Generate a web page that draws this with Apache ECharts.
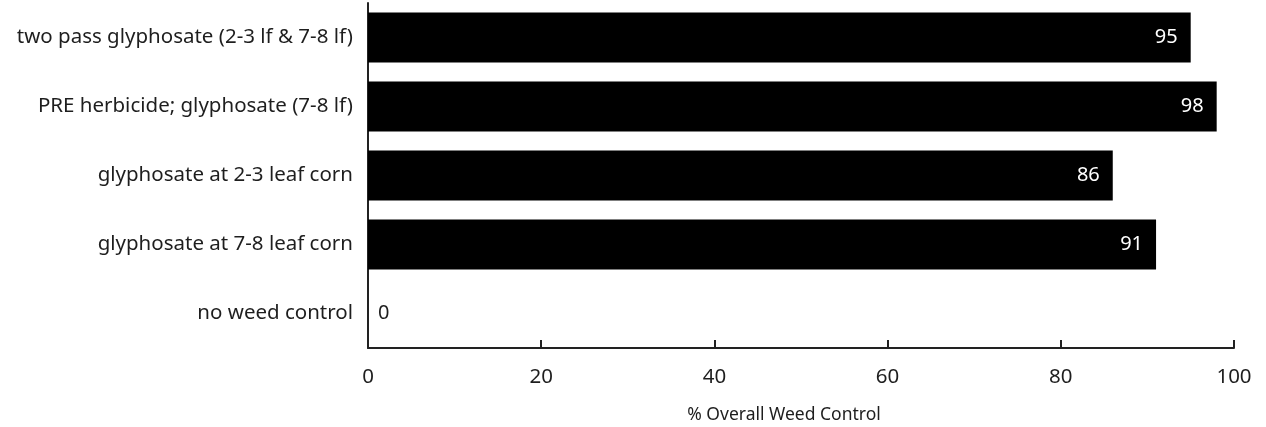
<!DOCTYPE html>
<html>
<head>
<meta charset="utf-8">
<script src="https://cdn.jsdelivr.net/npm/echarts@6/dist/echarts.min.js"></script>
<style>html,body{margin:0;padding:0;background:#fff}#c{width:1266px;height:427px}</style>
</head>
<body>
<div id="c"></div>
<script>
const categories = [
  'two pass glyphosate (2-3 lf & 7-8 lf)',
  'PRE herbicide; glyphosate (7-8 lf)',
  'glyphosate at 2-3 leaf corn',
  'glyphosate at 7-8 leaf corn',
  'no weed control'
];
const values = [95, 98, 86, 91, 0];
const xTicks = [0, 20, 40, 60, 80, 100];
const axisName = '% Overall Weed Control';

const FONT = '"Noto Sans", sans-serif';
const chart = echarts.init(document.getElementById('c'));
chart.setOption({
  animation: false,
  backgroundColor: '#fff',
  grid: {left: 368, right: 32, top: 3, bottom: 79, containLabel: false, outerBoundsMode: 'none'},
  xAxis: {
    type: 'value', min: xTicks[0], max: xTicks[xTicks.length - 1], interval: 20,
    name: axisName, nameLocation: 'middle', nameGap: 58,
    nameTextStyle: {fontFamily: FONT, fontSize: 17.5, color: '#1e1e1e', padding: [0, 34, 0, 0]},
    axisLine: {show: true, lineStyle: {color: '#222', width: 2}},
    axisTick: {show: true, inside: true, length: 8, lineStyle: {color: '#222', width: 2}},
    axisLabel: {fontFamily: FONT, fontSize: 20.5, color: '#1e1e1e', margin: 19},
    splitLine: {show: false}
  },
  yAxis: {
    type: 'category', data: categories, inverse: true,
    axisLine: {show: true, lineStyle: {color: '#222', width: 2}},
    axisTick: {show: false},
    axisLabel: {fontFamily: FONT, fontSize: 20.5, color: '#1e1e1e', margin: 15}
  },
  series: [{
    type: 'bar',
    data: values.map(v => v === 0
      ? {value: v, label: {position: 'right', color: '#1e1e1e', distance: 10}}
      : {value: v}),
    barCategoryGap: '27.5%',
    itemStyle: {color: '#000'},
    label: {show: true, position: 'insideRight', distance: 13, color: '#fff',
      fontFamily: FONT, fontSize: 20}
  }]
});
</script>
</body>
</html>
